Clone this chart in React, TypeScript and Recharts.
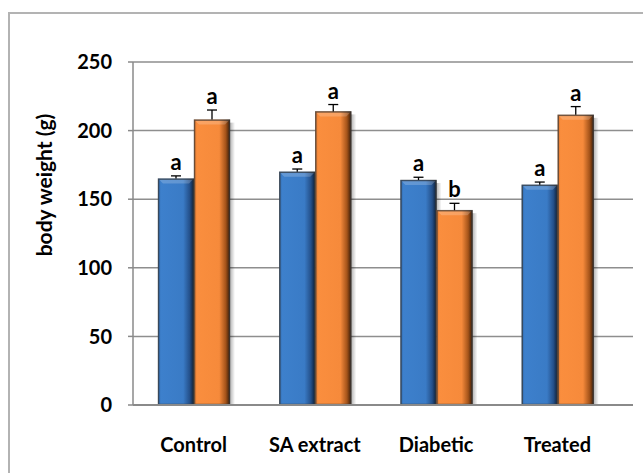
import { BarChart, Bar, XAxis, YAxis, CartesianGrid } from 'recharts'

const groups = ['Control', 'SA extract', 'Diabetic', 'Treated']
const initialWeight = [165, 170, 164, 160.5]
const initialErr = [2, 2, 2, 2]
const initialLetters = ['a', 'a', 'a', 'a']
const finalWeight = [208, 214, 142, 211.5]
const finalErr = [7, 5, 5, 6]
const finalLetters = ['a', 'a', 'b', 'a']
const yTicks = [0, 50, 100, 150, 200, 250]

const chartData = groups.map((group, i) => ({
  group,
  initial: initialWeight[i],
  initialErr: initialErr[i],
  initialLetter: initialLetters[i],
  final: finalWeight[i],
  finalErr: finalErr[i],
  finalLetter: finalLetters[i],
}))

const FONT = 'Lato, "Open Sans", sans-serif'

// bevelled bar with a plus-only error bar and its significance letter
function makeBarShape(valueKey: string, errKey: string, letterKey: string, gradId: string) {
  return (props: any) => {
    const { x, y, width, height, payload } = props
    const value = payload[valueKey]
    const errPx = (payload[errKey] * height) / value
    const cx = x + width / 2
    const top = y - errPx
    return (
      <g>
        <rect x={x + width - 1} y={y + 3} width={6} height={height - 3} fill="url(#shadowGrad)" />
        <rect x={x} y={y} width={width} height={height} fill={`url(#${gradId})`} />
        <polygon
          points={`${x + 1},${y + 1} ${x + width - 1},${y + 1} ${x + width - 5},${y + 5} ${x + 5},${y + 5}`}
          fill="#ffffff"
          opacity={0.2}
        />
        <rect
          x={x + 0.5}
          y={y + 0.5}
          width={width - 1}
          height={height - 1}
          fill="none"
          stroke="#3a3a3a"
          strokeOpacity={0.7}
          strokeWidth={1.5}
        />
        <line x1={cx} x2={cx} y1={y} y2={top} stroke="#000" strokeWidth={1.3} />
        <line x1={cx - 5} x2={cx + 5} y1={top} y2={top} stroke="#000" strokeWidth={1.3} />
        <text
          x={cx}
          y={top - 6}
          textAnchor="middle"
          fontFamily={FONT}
          fontWeight={700}
          fontSize={22}
          fill="#000"
        >
          {payload[letterKey]}
        </text>
      </g>
    )
  }
}

const YTitle = ({ viewBox }: any) => {
  const tx = viewBox.x - 17
  const ty = viewBox.y + 123
  return (
    <text
      x={tx}
      y={ty}
      transform={`rotate(-90, ${tx}, ${ty})`}
      textAnchor="middle"
      dominantBaseline="central"
      fontFamily={FONT}
      fontWeight={700}
      fontSize={21}
      fill="#000"
    >
      body weight (g)
    </text>
  )
}

export default function App() {
  return (
    <div
      style={{
        position: 'fixed',
        left: 0,
        top: 0,
        width: 643,
        height: 473,
        background: '#fff',
        overflow: 'hidden',
      }}
    >
      <div
        style={{
          position: 'absolute',
          left: 8,
          top: 12,
          width: 800,
          height: 600,
          borderLeft: '2px solid #b3b3b3',
          borderTop: '2px solid #b3b3b3',
        }}
      />
      <div style={{ position: 'absolute', left: 0, top: 0 }}>
        <BarChart
          width={643}
          height={473}
          data={chartData}
          margin={{ top: 62, right: 10, bottom: 38, left: 60 }}
          barCategoryGap={25}
          barGap={0}
        >
          <defs>
            <linearGradient id="blueGrad" x1="0" y1="0" x2="1" y2="0">
              <stop offset="0%" stopColor="#2d65a6" />
              <stop offset="8%" stopColor="#3d80cc" />
              <stop offset="70%" stopColor="#3a7bc6" />
              <stop offset="88%" stopColor="#24508a" />
              <stop offset="100%" stopColor="#0e1c30" />
            </linearGradient>
            <linearGradient id="orangeGrad" x1="0" y1="0" x2="1" y2="0">
              <stop offset="0%" stopColor="#d8712a" />
              <stop offset="8%" stopColor="#fa8e3e" />
              <stop offset="70%" stopColor="#f68a3b" />
              <stop offset="88%" stopColor="#a5541a" />
              <stop offset="100%" stopColor="#361a07" />
            </linearGradient>
            <linearGradient id="shadowGrad" x1="0" y1="0" x2="1" y2="0">
              <stop offset="0%" stopColor="#000" stopOpacity={0.35} />
              <stop offset="100%" stopColor="#000" stopOpacity={0} />
            </linearGradient>
          </defs>
          <CartesianGrid vertical={false} stroke="#8e8e8e" strokeWidth={1.5} />
          <XAxis
            dataKey="group"
            padding={{ left: 0, right: 15 }}
            axisLine={{ stroke: '#8a8a8a', strokeWidth: 2 }}
            tickLine={false}
            tickSize={0}
            tickMargin={33}
            tick={{ fill: '#000', fontSize: 20, fontWeight: 700, fontFamily: FONT }}
            interval={0}
          />
          <YAxis
            width={73}
            domain={[0, 250]}
            ticks={yTicks}
            axisLine={{ stroke: '#8a8a8a', strokeWidth: 1.5 }}
            tickLine={{ stroke: '#8a8a8a', strokeWidth: 1.5 }}
            tickSize={5}
            tickMargin={16}
            tick={{ fill: '#000', fontSize: 20, fontWeight: 700, fontFamily: FONT }}
            label={<YTitle />}
          />
          <Bar
            dataKey="initial"
            isAnimationActive={false}
            shape={makeBarShape('initial', 'initialErr', 'initialLetter', 'blueGrad')}
          />
          <Bar
            dataKey="final"
            isAnimationActive={false}
            shape={makeBarShape('final', 'finalErr', 'finalLetter', 'orangeGrad')}
          />
        </BarChart>
      </div>
    </div>
  )
}
